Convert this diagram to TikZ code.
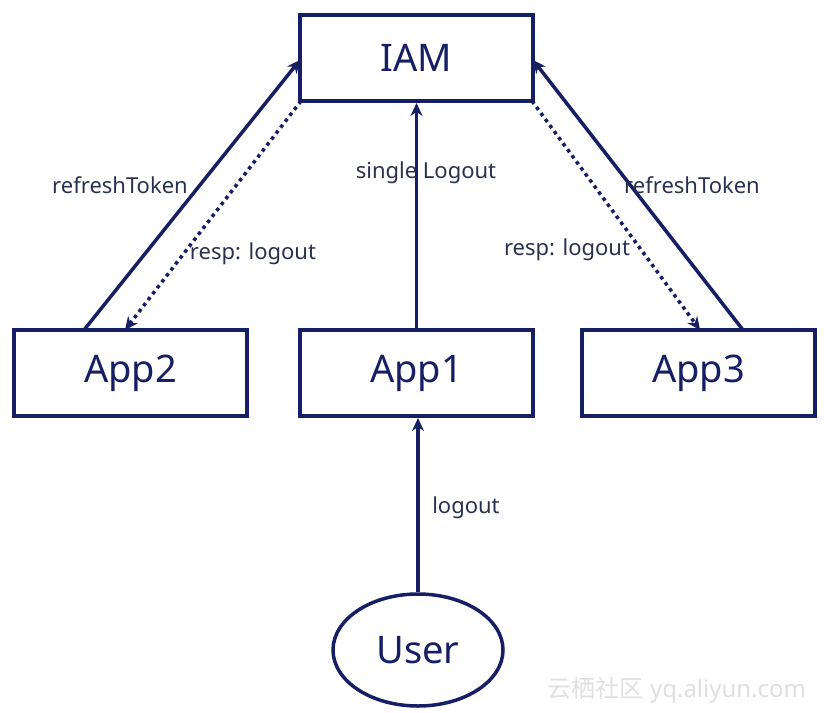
\documentclass[tikz,border=0pt]{standalone}
\usepackage{fontspec}
\setmainfont{Noto Sans}
\newfontfamily\cjkfont{Noto Sans CJK SC}
\usetikzlibrary{arrows.meta,shapes.geometric}
\definecolor{navy}{RGB}{22,30,100}
\definecolor{labelc}{RGB}{40,50,80}
\tikzset{
  box/.style={draw=navy, line width=4pt, minimum width=233pt, minimum height=86pt, inner sep=0pt, text=navy, font=\fontsize{38}{44}\selectfont},
  userell/.style={draw=navy, line width=3.5pt, ellipse, minimum width=170pt, minimum height=112pt, inner sep=0pt, text=navy, font=\fontsize{38}{44}\selectfont},
  conn/.style={draw=navy, line width=3.5pt, -{Stealth[length=13pt,width=12pt]}},
  dconn/.style={draw=navy, line width=3.5pt, dash pattern=on 3.5pt off 4pt, -{Stealth[length=13pt,width=12pt]}},
  lbl/.style={text=labelc, font=\fontsize{22}{26}\selectfont, inner sep=0pt}
}
\begin{document}
\begin{tikzpicture}[x=1pt,y=-1pt]
\useasboundingbox (0,0) rectangle (824,712);
\node[box] (iam) at (416.5,58) {IAM};
\node[box] (app2) at (130.5,373) {App2};
\node[box] (app1) at (416.5,373) {App1};
\node[box] (app3) at (698.5,373) {App3};
\node[userell] (user) at (418,650) {User};
\coordinate (a2s) at (84,330);
\coordinate (a2d) at (125,330);
\coordinate (a3s) at (743,330);
\coordinate (a3d) at (700,330);
\coordinate (iaml) at (300,60);
\coordinate (iamr) at (533,60);
\coordinate (iambl) at (301,101);
\coordinate (iambr) at (532,101);
\draw[conn] (a2s) -- (iaml);
\draw[dconn] (iambl) -- (a2d);
\draw[conn] (a3s) -- (iamr);
\draw[dconn] (iambr) -- (a3d);
\draw[conn] (app1.north -| iam.south) -- (iam.south);
\draw[conn] (user.north) -- (app1.south -| user.north);
\node[lbl] (l1) at (120,185) {refreshToken};
\node[lbl] (l2) at (253,254) {resp: logout};
\node[lbl] (l3) at (426,173) {single Logout};
\node[lbl] (l4) at (692,185) {refreshToken};
\node[lbl] (l5) at (567,250) {resp: logout};
\node[lbl] (l6) at (466,508) {logout};
\node[text=gray!25, font=\fontsize{24}{28}\selectfont, inner sep=0pt] (wm) at (677,690) {{\cjkfont 云栖社区} yq.aliyun.com};
\end{tikzpicture}
\end{document}
